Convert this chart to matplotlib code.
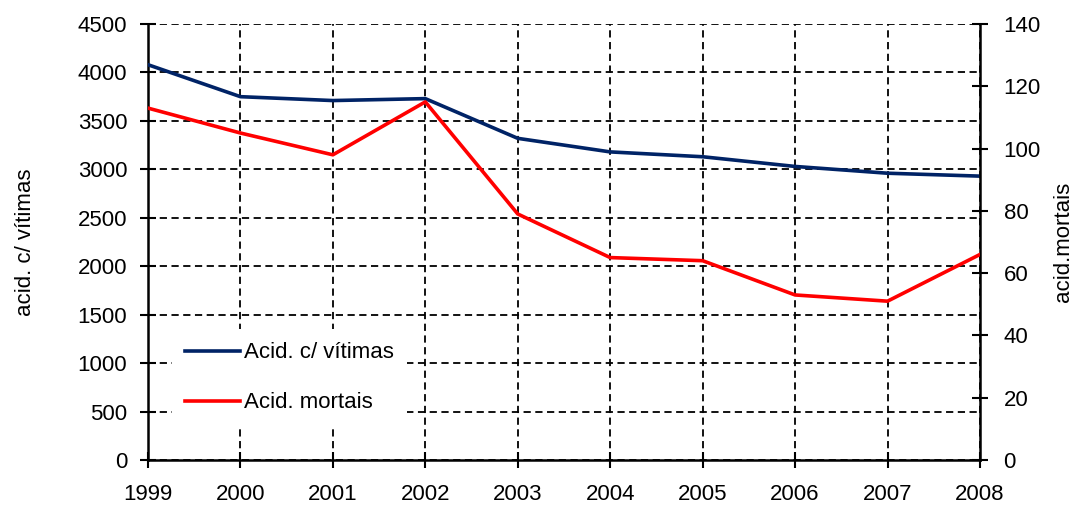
import matplotlib
matplotlib.use("Agg")
import matplotlib.pyplot as plt

years = [1999, 2000, 2001, 2002, 2003, 2004, 2005, 2006, 2007, 2008]
acid_vitimas = [4080, 3750, 3710, 3730, 3320, 3180, 3130, 3030, 2960, 2930]
acid_mortais = [113, 105, 98, 115, 79, 65, 64, 53, 51, 66]
left_ticks = list(range(0, 4501, 500))
right_ticks = list(range(0, 141, 20))

plt.rcParams['font.family'] = ['Liberation Sans', 'DejaVu Sans']
FS = 16

fig = plt.figure(figsize=(10.77, 5.11), dpi=100)
ax = fig.add_axes([0.1374, 0.0998, 0.7725, 0.8532])
ax2 = ax.twinx()

l1, = ax.plot(years, acid_vitimas, color='#002366', lw=2.6, label='Acid. c/ vítimas', zorder=3)
l2, = ax2.plot(years, acid_mortais, color='#ff0000', lw=2.6, label='Acid. mortais', zorder=3)

ax.set_xlim(1999, 2008)
ax.set_ylim(0, 4500)
ax2.set_ylim(0, 140)
ax.set_xticks(years)
ax.set_yticks(left_ticks)
ax2.set_yticks(right_ticks)

ax.grid(True, color='black', linestyle=(0, (4, 2.5)), linewidth=1.3)
ax.set_axisbelow(True)

for a in (ax, ax2):
    a.spines['top'].set_visible(False)
    a.patch.set_visible(False)
ax.spines['right'].set_visible(False)
ax2.spines['left'].set_visible(False)
ax2.spines['bottom'].set_visible(False)
for s in ('left', 'bottom'):
    ax.spines[s].set_linewidth(1.8)
ax2.spines['right'].set_linewidth(1.8)

ax.tick_params(axis='both', direction='inout', length=12, width=1.5, labelsize=FS)
ax.tick_params(axis='y', pad=9)
ax.tick_params(axis='x', pad=11)
ax2.tick_params(axis='y', direction='inout', length=12, width=1.5, labelsize=FS, pad=11)

ax.set_ylabel('acid. c/ vítimas', fontsize=FS, labelpad=30)
ax2.set_ylabel('acid.mortais', fontsize=FS, labelpad=9)

leg = ax2.legend([l1, l2], ['Acid. c/ vítimas', 'Acid. mortais'],
                 loc='lower left', bbox_to_anchor=(0.015, 0.051), frameon=True,
                 fontsize=FS, handlelength=2.5, labelspacing=1.3, borderpad=0.6,
                 handletextpad=0.15)
leg.get_frame().set_edgecolor('none')
leg.get_frame().set_facecolor('white')
leg.get_frame().set_alpha(1)

fig.savefig('out.png', dpi=100)
